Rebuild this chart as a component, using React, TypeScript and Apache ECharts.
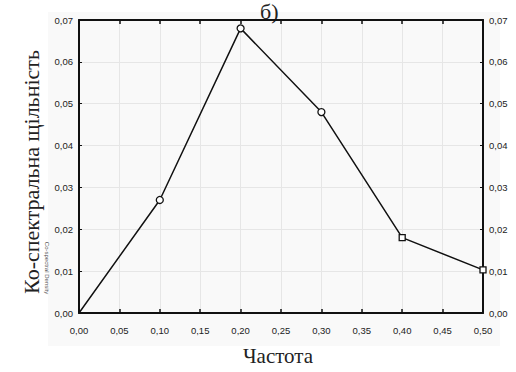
import React, { useEffect, useRef } from "react";
import * as echarts from "echarts";

const frequencies = [0, 0.1, 0.2, 0.3, 0.4, 0.5];
const density = [0.0, 0.027, 0.068, 0.048, 0.018, 0.0103];
const symbols = ["none", "circle", "circle", "circle", "rect", "rect"];
const title = "б)";
const yTitle = "Ко-спектральна щільність";
const xTitle = "Частота";

const fmt = (v: number) => v.toFixed(2).replace(".", ",");

export default function App() {
  const ref = useRef<HTMLDivElement>(null);
  useEffect(() => {
    if (!ref.current) return;
    const chart = echarts.init(ref.current, undefined, { renderer: "svg" });
    const tickLabel = { fontFamily: "Liberation Sans", fontSize: 9.5, color: "#222" };
    const serif = "'Liberation Serif', 'DejaVu Serif', serif";
    chart.setOption({
      animation: false,
      backgroundColor: "#ffffff",
      grid: { left: 79, right: 33, top: 20, bottom: 59 },
      graphic: [
        { type: "rect", shape: { x: 48, y: 12, width: 452, height: 334 }, style: { fill: "#f9f9f9" }, z: -10 },
        { type: "text", x: 260, y: 0, style: { text: title, font: `22px ${serif}`, fill: "#222" } },
        { type: "text", x: 31, y: 172, rotation: Math.PI / 2, style: { text: yTitle, font: `22px ${serif}`, fill: "#222", align: "center", verticalAlign: "middle" } },
        { type: "text", x: 278, y: 356, style: { text: xTitle, font: `21px ${serif}`, fill: "#222", align: "center", verticalAlign: "middle" } },
        { type: "text", x: 47, y: 268, rotation: -Math.PI / 2, style: { text: "Co-spectral Density", font: "6px 'Liberation Sans', sans-serif", fill: "#555", align: "center", verticalAlign: "middle" } },
      ],
      xAxis: [
        {
          type: "value", min: 0, max: 0.5, interval: 0.05, position: "bottom",
          axisLine: { onZero: false, lineStyle: { color: "#111", width: 2 } },
          axisTick: { inside: true, length: 4, lineStyle: { color: "#111", width: 1.5 } },
          axisLabel: { ...tickLabel, margin: 12, formatter: fmt },
          splitLine: { show: true, lineStyle: { color: "#e6e6e6", width: 1 } },
        },
        {
          type: "value", min: 0, max: 0.5, interval: 0.05, position: "top",
          axisLine: { onZero: false, lineStyle: { color: "#111", width: 2 } },
          axisTick: { inside: true, length: 4, lineStyle: { color: "#111", width: 1.5 } },
          axisLabel: { show: false },
          splitLine: { show: false },
        },
      ],
      yAxis: [
        {
          type: "value", min: 0, max: 0.07, interval: 0.01, position: "left",
          axisLine: { show: true, onZero: false, lineStyle: { color: "#111", width: 2 } },
          axisTick: { show: true, inside: true, length: 3, lineStyle: { color: "#111" } },
          axisLabel: { ...tickLabel, margin: 6, formatter: fmt },
          splitLine: { show: true, lineStyle: { color: "#e6e6e6", width: 1 } },
        },
        {
          type: "value", min: 0, max: 0.07, interval: 0.01, position: "right",
          axisLine: { show: true, onZero: false, lineStyle: { color: "#111", width: 2 } },
          axisTick: { show: true, inside: true, length: 3, lineStyle: { color: "#111" } },
          axisLabel: { ...tickLabel, margin: 6, formatter: fmt },
          splitLine: { show: false },
        },
      ],
      series: [
        {
          type: "line",
          xAxisIndex: 0,
          yAxisIndex: 0,
          data: frequencies.map((f, i) => ({
            value: [f, density[i]],
            symbol: symbols[i],
            symbolSize: symbols[i] === "rect" ? 6 : 7,
          })),
          lineStyle: { color: "#111", width: 1.5 },
          itemStyle: { color: "#ffffff", borderColor: "#111", borderWidth: 1.3 },
          showAllSymbol: true,
        },
      ],
    });
    return () => chart.dispose();
  }, []);
  return <div ref={ref} style={{ position: "fixed", left: 0, top: 0, width: 516, height: 372 }} />;
}
